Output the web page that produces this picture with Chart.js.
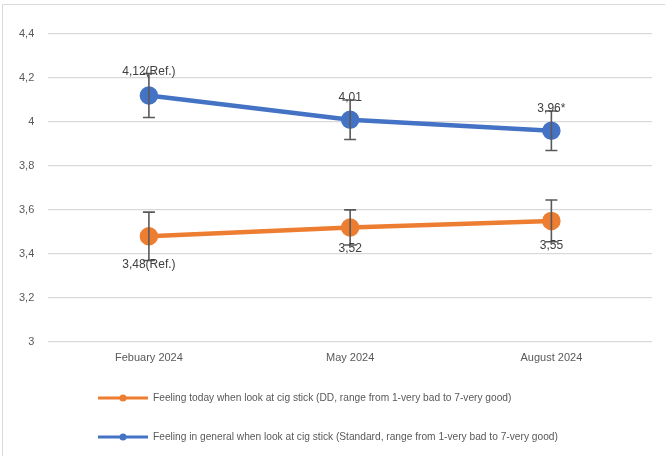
<!DOCTYPE html>
<html>
<head>
<meta charset="utf-8">
<script src="https://cdn.jsdelivr.net/npm/chart.js@4"></script>
<style>
  html, body { margin: 0; padding: 0; background: #fff; }
  #wrap { width: 665px; height: 456px; position: relative; }
</style>
</head>
<body>
<div id="wrap"><canvas id="myCanvas" width="665" height="456"></canvas></div>
<script>
const labels = ['Febuary 2024', 'May 2024', 'August 2024'];

const todayName = 'Feeling today when look at cig stick (DD, range from 1-very bad to 7-very good)';
const todayValues = [3.48, 3.52, 3.55];
const todayErrors = [0.11, 0.08, 0.095];
const todayTags = ['3,48(Ref.)', '3,52', '3,55'];

const generalName = 'Feeling in general when look at cig stick (Standard, range from 1-very bad to 7-very good)';
const generalValues = [4.12, 4.01, 3.96];
const generalErrors = [0.10, 0.09, 0.09];
const generalTags = ['4,12(Ref.)', '4,01', '3,96*'];

const orange = '#ED7D31';
const blue = '#4472C4';
const font = "'Liberation Sans', 'DejaVu Sans', sans-serif";

// error bars + value labels, drawn with the chart's own scales
const errorBars = {
    id: 'errorBars',
    afterDatasetsDraw(chart) {
        const ctx = chart.ctx;
        const x = chart.scales.x;
        const y = chart.scales.y;
        ctx.save();
        chart.data.datasets.forEach((ds) => {
            ds.data.forEach((v, i) => {
                const px = x.getPixelForValue(i);
                const top = y.getPixelForValue(v + ds.errors[i]);
                const bot = y.getPixelForValue(v - ds.errors[i]);
                ctx.strokeStyle = '#595959';
                ctx.lineWidth = 1.6;
                ctx.beginPath();
                ctx.moveTo(px, top); ctx.lineTo(px, bot);
                ctx.moveTo(px - 6, top); ctx.lineTo(px + 6, top);
                ctx.moveTo(px - 6, bot); ctx.lineTo(px + 6, bot);
                ctx.stroke();
            });
        });
        chart.data.datasets.forEach((ds) => {
            ds.data.forEach((v, i) => {
                const px = x.getPixelForValue(i);
                ctx.fillStyle = '#404040';
                ctx.font = '12px ' + font;
                ctx.textAlign = 'center';
                if (ds.tagPos === 'above') {
                    ctx.textBaseline = 'alphabetic';
                    ctx.fillText(ds.tags[i], px, y.getPixelForValue(v + ds.errors[i]) + 1);
                } else {
                    ctx.textBaseline = 'top';
                    ctx.fillText(ds.tags[i], px, y.getPixelForValue(v - ds.errors[i]) - 2);
                }
            });
        });
        ctx.restore();
    }
};

const frameAndLegend = {
    id: 'frameAndLegend',
    beforeDraw(chart) {
        const ctx = chart.ctx;
        ctx.save();
        ctx.fillStyle = '#fff';
        ctx.fillRect(0, 0, chart.width, chart.height);
        ctx.strokeStyle = '#d9d9d9';
        ctx.lineWidth = 1;
        ctx.beginPath();
        ctx.moveTo(2.5, chart.height);
        ctx.lineTo(2.5, 4.5);
        ctx.lineTo(chart.width, 4.5);
        ctx.stroke();
        ctx.restore();
    },
    afterDraw(chart) {
        const ctx = chart.ctx;
        const rows = [398, 437];
        ctx.save();
        chart.data.datasets.forEach((ds, i) => {
            const yy = rows[i];
            ctx.strokeStyle = ds.borderColor;
            ctx.lineWidth = 3;
            ctx.beginPath();
            ctx.moveTo(98, yy); ctx.lineTo(148, yy);
            ctx.stroke();
            ctx.fillStyle = ds.borderColor;
            ctx.beginPath();
            ctx.arc(123, yy, 3.5, 0, Math.PI * 2);
            ctx.fill();
            ctx.fillStyle = '#595959';
            ctx.font = '10.2px ' + font;
            ctx.textAlign = 'left';
            ctx.textBaseline = 'middle';
            ctx.fillText(ds.label, 153, yy);
        });
        ctx.restore();
    }
};

const dataConfig = {
    labels: labels,
    datasets: [{
        label: todayName,
        data: todayValues,
        errors: todayErrors,
        tags: todayTags,
        tagPos: 'below',
        borderColor: orange,
        backgroundColor: orange,
        borderWidth: 4.5,
        pointRadius: 7,
        pointHoverRadius: 7,
        tension: 0
    }, {
        label: generalName,
        data: generalValues,
        errors: generalErrors,
        tags: generalTags,
        tagPos: 'above',
        borderColor: blue,
        backgroundColor: blue,
        borderWidth: 4.5,
        pointRadius: 7,
        pointHoverRadius: 7,
        tension: 0
    }]
};

const config = {
    type: 'line',
    data: dataConfig,
    plugins: [frameAndLegend, errorBars],
    options: {
        responsive: false,
        animation: false,
        layout: { padding: { top: 34, right: 13, bottom: 81, left: 5 } },
        plugins: {
            legend: { display: false },
            tooltip: { enabled: false }
        },
        scales: {
            x: {
                offset: true,
                grid: { display: false, drawTicks: false },
                border: { display: false },
                ticks: { color: '#595959', font: { family: font, size: 11 }, padding: 10 }
            },
            y: {
                min: 3,
                max: 4.4,
                ticks: {
                    stepSize: 0.2,
                    color: '#595959',
                    font: { family: font, size: 11 },
                    padding: 14,
                    callback: (v) => String(Math.round(v * 10) / 10).replace('.', ',')
                },
                grid: { color: '#d9d9d9', lineWidth: 1.2, drawTicks: false },
                border: { display: false }
            }
        }
    }
};

const myChart = new Chart(document.getElementById('myCanvas'), config);
</script>
</body>
</html>
